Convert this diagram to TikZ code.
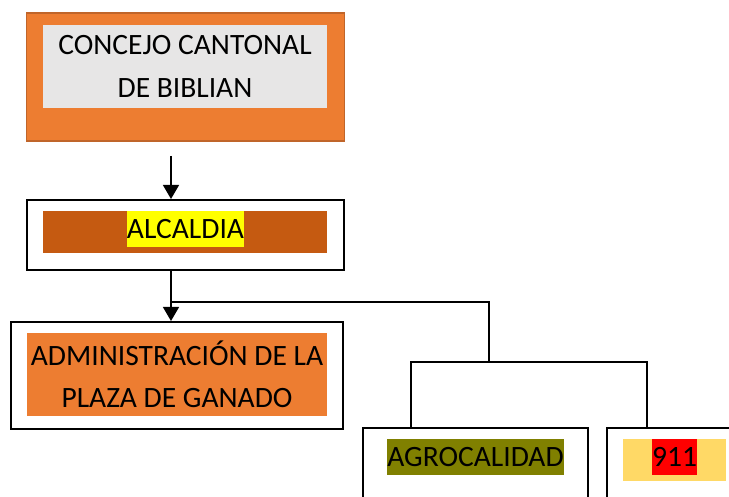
\documentclass[tikz,border=0pt]{standalone}
\usepackage{fontspec}
\setmainfont{Carlito}
\usetikzlibrary{arrows.meta}

\definecolor{naranja}{HTML}{ED7D31}
\definecolor{naranjaosc}{HTML}{C0652A}
\definecolor{gris}{HTML}{E7E6E6}
\definecolor{cafe}{HTML}{C55A11}
\definecolor{amarillo}{HTML}{FFFF00}
\definecolor{oliva}{HTML}{808000}
\definecolor{crema}{HTML}{FFD966}
\definecolor{rojo}{HTML}{FF0000}

\tikzset{
    marco/.style={draw, line width=1.1pt, inner sep=0pt},
    relleno/.style={inner sep=0pt, align=center, font=\fontsize{16.8}{24}\selectfont},
    linea/.style={line width=1.1pt},
    flecha/.style={linea, -{Triangle[width=9pt,length=8pt]}},
}

\begin{document}
\begin{tikzpicture}
    \useasboundingbox (0,0) rectangle (14.58,-9.92);
    \clip (0,0) rectangle (14.58,-9.92);

    % Concejo
    \node[marco, draw=naranjaosc, fill=naranja, minimum width=6.36cm, minimum height=2.56cm] (concejo) at (3.71,-1.54) {};
    \node[relleno, fill=gris, minimum width=5.68cm, minimum height=1.66cm] (concejotxt) at (3.70,-1.33) {CONCEJO CANTONAL\\DE BIBLIAN};

    % Alcaldia
    \node[marco, minimum width=6.34cm, minimum height=1.40cm] (alcaldia) at (3.71,-4.70) {};
    \node[relleno, fill=cafe, minimum width=5.68cm, minimum height=0.84cm] (alcaldiafondo) at (3.70,-4.64) {};
    \node[relleno, fill=amarillo, minimum width=2.34cm, minimum height=0.72cm] (alcaldiatxt) at (3.71,-4.58) {ALCALDIA};

    % Administracion
    \node[marco, minimum width=6.64cm, minimum height=2.14cm] (admin) at (3.54,-7.51) {};
    \node[relleno, fill=naranja, minimum width=6.00cm, minimum height=1.66cm] (admintxt) at (3.54,-7.49) {ADMINISTRACIÓN DE LA\\PLAZA DE GANADO};

    % Dependencias
    \node[marco, minimum width=4.50cm, minimum height=2.00cm] (agro) at (9.51,-9.56) {};
    \node[relleno, fill=oliva, minimum width=3.54cm, minimum height=0.72cm] (agrotxt) at (9.51,-9.14) {AGROCALIDAD};
    \node[marco, minimum width=2.70cm, minimum height=2.00cm] (emerg) at (13.49,-9.56) {};
    \node[relleno, fill=crema, minimum width=2.06cm, minimum height=0.84cm] (emergfondo) at (13.49,-9.20) {};
    \node[relleno, fill=rojo, minimum width=0.90cm, minimum height=0.72cm] (emergtxt) at (13.49,-9.14) {911};

    % Conectores
    \coordinate (rama) at (3.42,-6.04);
    \coordinate (nudo) at (9.78,-7.24);
    \draw[flecha] ([xshift=-0.29cm,yshift=-0.28cm]concejo.south) -- ([xshift=-0.29cm]alcaldia.north);
    \draw[flecha] ([xshift=-0.29cm]alcaldia.south) -- ([xshift=-0.12cm]admin.north);
    \draw[linea] (rama) -| (nudo);
    \draw[linea] ([xshift=-1.29cm]agro.north) |- (nudo) -| ([xshift=-0.55cm]emerg.north);
\end{tikzpicture}
\end{document}
